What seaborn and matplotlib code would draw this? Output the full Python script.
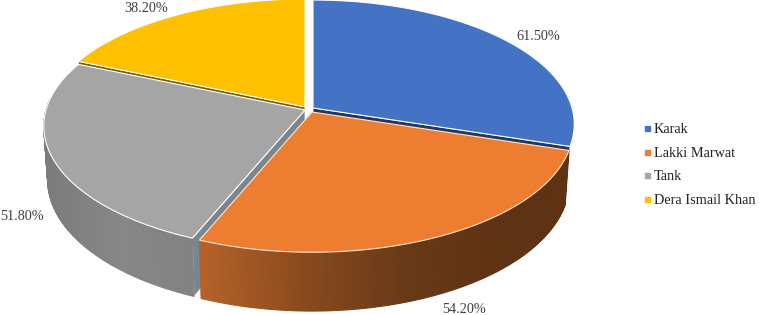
import numpy as np
import seaborn as sns
import matplotlib.pyplot as plt
from matplotlib.lines import Line2D

districts = ['Karak', 'Lakki Marwat', 'Tank', 'Dera Ismail Khan']
rates = [61.5, 54.2, 51.8, 38.2]

# look of the slices
top_colors = ['#4472C4', '#ED7D31', '#A5A5A5', '#FFC000']
line_colors = ['white', '#FFE6CF', 'white', 'white']
cut_colors = ['#1F3864', '#6B3A14', '#7A868F', '#7F6000']
cut_side = ['end', None, 'start', 'start']
wall_colors = [None,
               ['#B5622A', '#8A4B1E', '#6A3A18', '#5E3213'],
               ['#7C7C7C', '#878787', '#828282'],
               None]
wall_range = [None, (200, 500), (46, 193), None]
apex_x = [313, 312, 305, 305]
apex_y = [108, 112, 110, 107]
label_x = [538, 464, 22, 146]
label_y = [37, 309.5, 217, 8]
draw_order = [2, 4, 3, 1]

RX, RY = 259, 122
PERSP = 0.13
DEPTH = 53
SHRINK = 0.015


def project(angle, x0, y0, level=0.0):
    # unit circle on a tilted plane, seen with a bit of perspective
    a = np.radians(angle)
    u, v = np.sin(a), np.cos(a)
    s = 1 / (1 + PERSP * v)
    b = 1 - SHRINK * level
    return x0 + RX * u * s * b, y0 - RY * v * s * b + DEPTH * s * level


def draw_slice(ax, i, start, end):
    x0, y0 = apex_x[i], apex_y[i]
    order = draw_order[i]
    angles = np.linspace(start, end, 150)

    # cut face, only the ones the viewer can see
    if cut_side[i] is not None:
        edge = start if cut_side[i] == 'start' else end
        tx, ty = project(edge, x0, y0)
        bx, by = project(edge, x0, y0, 1)
        ax.fill([x0, tx, bx, x0], [y0, ty, by, y0 + DEPTH], facecolor=cut_colors[i],
                edgecolor='white', lw=0.5, zorder=order)

    # outer wall, shaded left to right
    if wall_colors[i] is not None:
        front = angles[(angles > 84) & (angles < 276)]
        palette = sns.blend_palette(wall_colors[i], n_colors=100)
        tx, ty = project(front, x0, y0)
        bx, by = project(front, x0, y0, 1)
        lo, hi = wall_range[i]
        for j in range(len(front) - 1):
            frac = np.clip((tx[j] - lo) / (hi - lo), 0, 1)
            ax.fill([tx[j], tx[j + 1], bx[j + 1], bx[j]],
                    [ty[j], ty[j + 1], by[j + 1], by[j]],
                    color=palette[int(frac * 99)], lw=0.8, zorder=order)

    # top of the slice
    ex, ey = project(angles, x0, y0)
    ax.fill(np.r_[x0, ex], np.r_[y0, ey], facecolor=top_colors[i],
            edgecolor=line_colors[i], lw=0.8, zorder=order + 0.5)


sns.set_theme(style='white')
plt.rcParams['font.family'] = ['Liberation Serif', 'DejaVu Serif']

fig = plt.figure(figsize=(7.59, 3.15), dpi=100)
ax = fig.add_axes([0, 0, 1, 1])
ax.set_xlim(0, 759)
ax.set_ylim(315, 0)
ax.axis('off')

edges = np.r_[0, np.cumsum(rates)] / sum(rates) * 360
for i in range(len(rates)):
    draw_slice(ax, i, edges[i], edges[i + 1])

for i, rate in enumerate(rates):
    ax.text(label_x[i], label_y[i], f'{rate:.2f}%', ha='center', va='center',
            fontsize=10.3, color='#404040', zorder=10)

handles = [Line2D([], [], ls='', marker='s', ms=3.6, color=c) for c in top_colors]
ax.legend(handles, districts, loc='center left', bbox_to_anchor=(643 / 759, 1 - 165 / 315),
          frameon=False, fontsize=10.3, handlelength=0.55, handletextpad=0.2,
          labelspacing=0.76, labelcolor='#222222', borderpad=0, borderaxespad=0)

fig.savefig('out.png', dpi=100)
